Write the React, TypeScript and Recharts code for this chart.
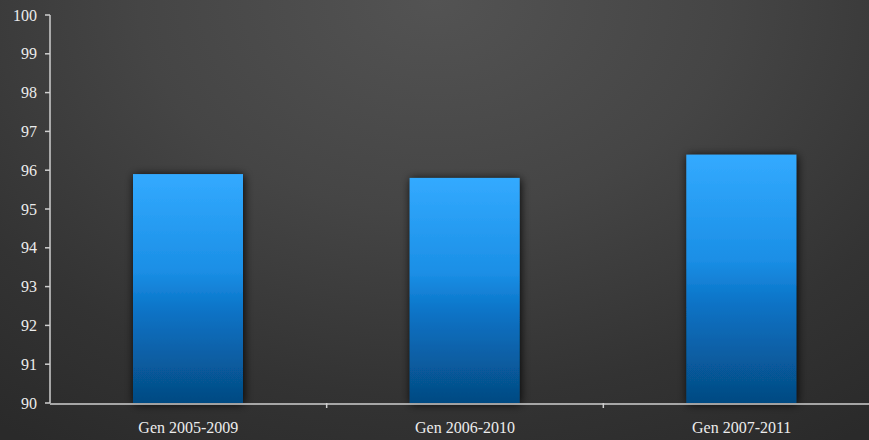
import React from 'react';
import { BarChart, Bar, XAxis, YAxis } from 'recharts';

const categories = ['Gen 2005-2009', 'Gen 2006-2010', 'Gen 2007-2011'];
const values = [95.9, 95.8, 96.4];
const yTicks = [90, 91, 92, 93, 94, 95, 96, 97, 98, 99, 100];
const boundaryTicks = [1, 2];

const data = categories.map((name, i) => ({ name, value: values[i] }));

const textStyle = { fill: '#ececec', fontFamily: '"Liberation Serif", "Times New Roman", serif', fontSize: 16 };

const ShadowBar = (props: any) => {
  const { x, y, width, height } = props;
  if (width == null || height == null) return null;
  return (
    <rect x={x} y={y} width={width} height={height} fill="url(#barGrad)" filter="url(#barShadow)" />
  );
};

const EmptyTick = () => <g />;

export default function App() {
  return (
    <div
      style={{
        position: 'absolute',
        left: 0,
        top: 0,
        width: 869,
        height: 440,
        overflow: 'hidden',
        background: 'radial-gradient(ellipse 85% 120% at 50% 0%, #535353 0%, #454545 40%, #333333 75%, #2a2a2a 100%)',
      }}
    >
      <BarChart width={880} height={440} data={data} margin={{ top: 15, right: 0, bottom: 6, left: 0 }}>
        <defs>
          <linearGradient id="barGrad" x1="0" y1="0" x2="0" y2="1">
            <stop offset="0%" stopColor="#33aaff" />
            <stop offset="42%" stopColor="#1b8fe6" />
            <stop offset="60%" stopColor="#0a73c6" />
            <stop offset="100%" stopColor="#054a82" />
          </linearGradient>
          <filter id="barShadow" x="-20%" y="-20%" width="140%" height="140%">
            <feDropShadow dx="1" dy="1" stdDeviation="5" floodColor="#000" floodOpacity="0.9" />
          </filter>
        </defs>
        <XAxis
          xAxisId="bnd"
          type="number"
          dataKey={() => 0}
          domain={[0, 3]}
          ticks={boundaryTicks}
          height={1}
          axisLine={false}
          tick={EmptyTick}
          tickLine={{ stroke: '#cfcfcf', strokeWidth: 1.5 }}
          tickSize={5}
        />
        <XAxis
          xAxisId="cat"
          dataKey="name"
          height={30}
          axisLine={{ stroke: '#cfcfcf', strokeWidth: 1.5 }}
          tickLine={false}
          tick={textStyle}
          tickMargin={12}
        />
        <YAxis
          domain={[90, 100]}
          ticks={yTicks}
          width={50}
          interval={0}
          axisLine={{ stroke: '#cfcfcf', strokeWidth: 1.5 }}
          tickLine={{ stroke: '#cfcfcf', strokeWidth: 1.5 }}
          tickSize={5}
          tickMargin={8}
          tick={textStyle}
        />
        <Bar dataKey="value" xAxisId="cat" barSize={110} shape={ShadowBar} isAnimationActive={false} />
      </BarChart>
    </div>
  );
}
